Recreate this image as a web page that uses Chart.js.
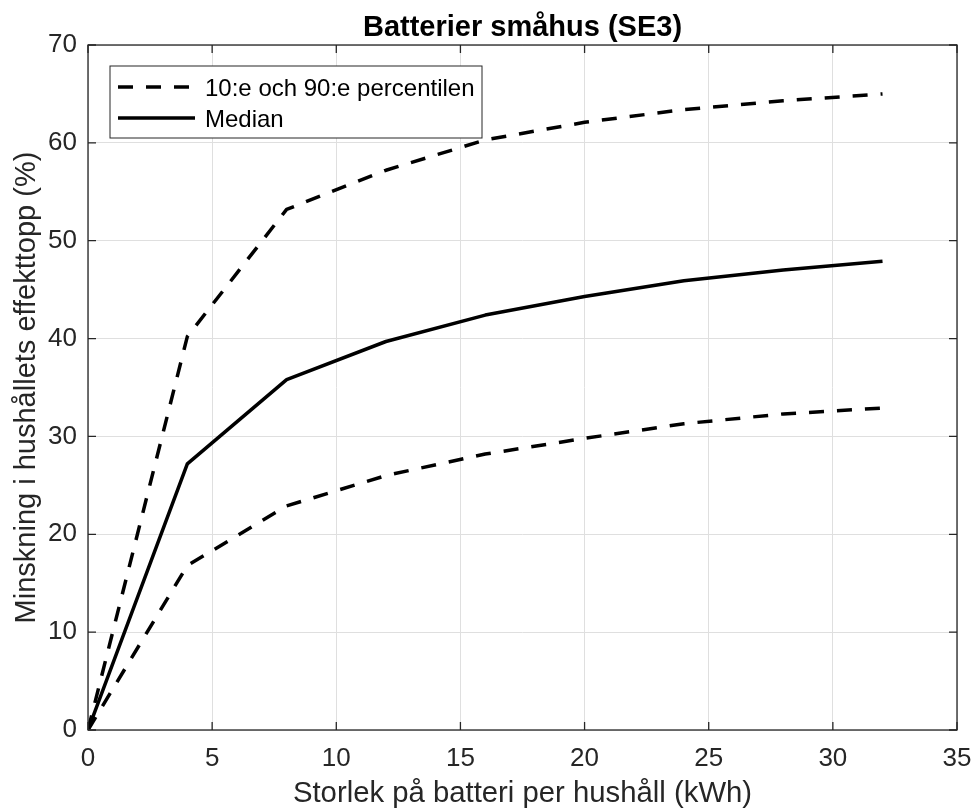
<!DOCTYPE html>
<html>
<head>
<meta charset="utf-8">
<title>Batterier småhus (SE3)</title>
<script src="https://cdn.jsdelivr.net/npm/chart.js@4.4.1/dist/chart.umd.min.js"></script>
<style>
  html, body { margin: 0; padding: 0; background: #fff; }
  #wrap { width: 974px; height: 811px; position: relative; }
</style>
</head>
<body>
<div id="wrap"><canvas id="batteryChart"></canvas></div>
<script>
// Battery size (kWh) and peak reduction (%) per household
const batterySize = [0, 4, 8, 12, 16, 20, 24, 28, 32];
const percentile90 = [0, 40.2, 53.2, 57.2, 60.3, 62.1, 63.4, 64.3, 65.0];
const medianValues = [0, 27.2, 35.8, 39.7, 42.4, 44.3, 45.9, 47.0, 47.9];
const percentile10 = [0, 16.8, 22.9, 26.0, 28.2, 29.8, 31.3, 32.3, 32.9];

const xTicks = [0, 5, 10, 15, 20, 25, 30, 35];
const yTicks = [0, 10, 20, 30, 40, 50, 60, 70];

const chartTitle = "Batterier småhus (SE3)";
const xTitle = "Storlek på batteri per hushåll (kWh)";
const yTitle = "Minskning i hushållets effekttopp (%)";
const legendLabels = ["10:e och 90:e percentilen", "Median"];

const FONT = "'Liberation Sans', Arial, Helvetica, sans-serif";
const AXIS_COLOR = "#262626";
const GRID_COLOR = "#dfdfdf";
const LINE_WIDTH = 3.5;
const DASH = [15, 13];
const TICK_LEN = 8;

const toPoints = (values) => batterySize.map((x, i) => ({ x, y: values[i] }));

// Box around the plot area with inward tick marks on all four sides
const axesBox = {
  id: "axesBox",
  afterDatasetsDraw(chart) {
    const { ctx, chartArea: a, scales: { x, y } } = chart;
    ctx.save();
    ctx.strokeStyle = AXIS_COLOR;
    ctx.lineWidth = 1.3;
    ctx.beginPath();
    x.ticks.forEach((t) => {
      const px = x.getPixelForValue(t.value);
      ctx.moveTo(px, a.bottom);
      ctx.lineTo(px, a.bottom - TICK_LEN);
      ctx.moveTo(px, a.top);
      ctx.lineTo(px, a.top + TICK_LEN);
    });
    y.ticks.forEach((t) => {
      const py = y.getPixelForValue(t.value);
      ctx.moveTo(a.left, py);
      ctx.lineTo(a.left + TICK_LEN, py);
      ctx.moveTo(a.right, py);
      ctx.lineTo(a.right - TICK_LEN, py);
    });
    ctx.stroke();
    ctx.strokeRect(a.left, a.top, a.right - a.left, a.bottom - a.top);
    ctx.restore();
  },
};

// Title centred over the plot area
const plotTitle = {
  id: "plotTitle",
  afterDraw(chart) {
    const { ctx, chartArea: a } = chart;
    ctx.save();
    ctx.font = `bold 29px ${FONT}`;
    ctx.fillStyle = "#000";
    ctx.textAlign = "center";
    ctx.textBaseline = "alphabetic";
    ctx.fillText(chartTitle, (a.left + a.right) / 2, a.top - 9);
    ctx.restore();
  },
};

// Legend box in the upper left corner of the plot
const boxLegend = {
  id: "boxLegend",
  afterDraw(chart) {
    const { ctx, chartArea: a } = chart;
    const bx = a.left + 22;
    const by = a.top + 21;
    const bw = 372;
    const bh = 72;
    ctx.save();
    ctx.fillStyle = "#fff";
    ctx.fillRect(bx, by, bw, bh);
    ctx.strokeStyle = AXIS_COLOR;
    ctx.lineWidth = 1;
    ctx.strokeRect(bx, by, bw, bh);

    const rows = [
      { label: legendLabels[0], dash: DASH, y: by + 21 },
      { label: legendLabels[1], dash: [], y: by + 52 },
    ];
    ctx.font = `24px ${FONT}`;
    ctx.textBaseline = "alphabetic";
    ctx.textAlign = "left";
    rows.forEach((r) => {
      ctx.strokeStyle = "#000";
      ctx.lineWidth = LINE_WIDTH;
      ctx.setLineDash(r.dash);
      ctx.beginPath();
      ctx.moveTo(bx + 8, r.y);
      ctx.lineTo(bx + 85, r.y);
      ctx.stroke();
      ctx.setLineDash([]);
      ctx.fillStyle = "#000";
      ctx.fillText(r.label, bx + 95, r.y + 8.6);
    });
    ctx.restore();
  },
};

const lineStyle = (dashed) => ({
  borderColor: "#000",
  backgroundColor: "#000",
  borderWidth: LINE_WIDTH,
  borderDash: dashed ? DASH : [],
  borderCapStyle: "butt",
  borderJoinStyle: "round",
  pointRadius: 0,
  tension: 0,
  fill: false,
});

new Chart(document.getElementById("batteryChart"), {
  type: "line",
  data: {
    datasets: [
      { label: legendLabels[0], data: toPoints(percentile90), ...lineStyle(true) },
      { label: legendLabels[1], data: toPoints(medianValues), ...lineStyle(false) },
      { label: legendLabels[0], data: toPoints(percentile10), ...lineStyle(true) },
    ],
  },
  options: {
    responsive: true,
    maintainAspectRatio: false,
    animation: false,
    layout: { padding: { left: 0, right: 17, top: 45, bottom: 0 } },
    plugins: {
      legend: { display: false },
      title: { display: false },
      tooltip: { enabled: false },
    },
    scales: {
      x: {
        type: "linear",
        min: 0,
        max: 35,
        afterBuildTicks: (scale) => {
          scale.ticks = xTicks.map((value) => ({ value }));
        },
        afterFit: (scale) => {
          scale.height = 81;
          // the edge labels fit inside the page margins
          scale.paddingLeft = 0;
          scale.paddingRight = 0;
        },
        border: { display: false },
        grid: { color: GRID_COLOR, lineWidth: 1, drawTicks: false },
        ticks: {
          color: AXIS_COLOR,
          padding: 13,
          maxRotation: 0,
          font: { family: FONT, size: 26 },
        },
        title: {
          display: true,
          text: xTitle,
          color: AXIS_COLOR,
          padding: { top: 0, bottom: 0 },
          font: { family: FONT, size: 29.3 },
        },
      },
      y: {
        type: "linear",
        min: 0,
        max: 70,
        afterBuildTicks: (scale) => {
          scale.ticks = yTicks.map((value) => ({ value }));
        },
        afterFit: (scale) => {
          scale.width = 88;
        },
        border: { display: false },
        grid: { color: GRID_COLOR, lineWidth: 1, drawTicks: false },
        ticks: {
          color: AXIS_COLOR,
          padding: 11,
          font: { family: FONT, size: 26 },
        },
        title: {
          display: true,
          text: yTitle,
          color: AXIS_COLOR,
          padding: { top: 10, bottom: 0 },
          font: { family: FONT, size: 29 },
        },
      },
    },
  },
  plugins: [axesBox, plotTitle, boxLegend],
});
</script>
</body>
</html>
